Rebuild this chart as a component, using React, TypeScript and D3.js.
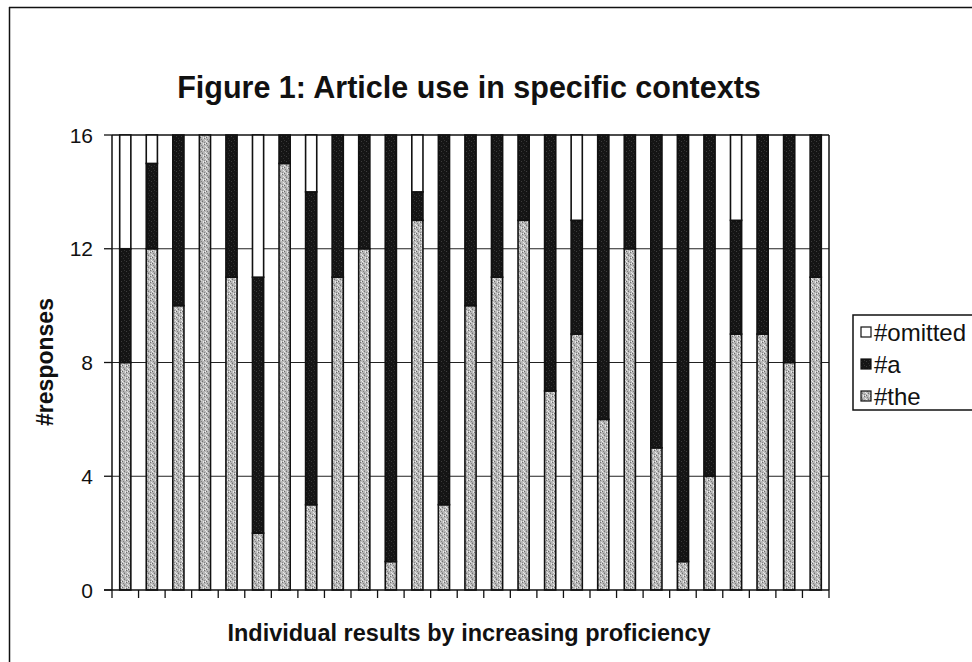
import React from "react";
import * as d3 from "d3";

// Responses per participant, ordered by increasing proficiency
const participants = d3.range(1, 28).map((i) => `P${i}`);
const theCounts = [8, 12, 10, 16, 11, 2, 15, 3, 11, 12, 1, 13, 3, 10, 11, 13, 7, 9, 6, 12, 5, 1, 4, 9, 9, 8, 11];
const aCounts = [4, 3, 6, 0, 5, 9, 1, 11, 5, 4, 15, 1, 13, 6, 5, 3, 9, 4, 10, 4, 11, 15, 12, 4, 7, 8, 5];
const omittedCounts = [4, 1, 0, 0, 0, 5, 0, 2, 0, 0, 0, 2, 0, 0, 0, 0, 0, 3, 0, 0, 0, 0, 0, 3, 0, 0, 0];
const yTicks = [0, 4, 8, 12, 16];
const seriesKeys = ["the", "a", "omitted"] as const;
const seriesLabels: Record<string, string> = { omitted: "#omitted", a: "#a", the: "#the" };
const legendOrder = ["omitted", "a", "the"];

const W = 972;
const H = 662;
const plot = { left: 112, right: 829, top: 135, bottom: 590 };
const FONT = "'Liberation Sans', Arial, Helvetica, sans-serif";

const fills: Record<string, string> = {
  the: "url(#pat-the)",
  a: "url(#pat-a)",
  omitted: "#ffffff",
};

// stipple dots for the light-grey fill (cell 6x6)
const theDots: [number, number, string][] = [
  [0, 0, "#6e6e6e"], [3, 1, "#808080"], [5, 0, "#e6e6e6"], [1, 2, "#e8e8e8"],
  [4, 3, "#727272"], [0, 4, "#888888"], [2, 5, "#6a6a6a"], [5, 5, "#e4e4e4"],
  [2, 3, "#eeeeee"], [4, 2, "#9a9a9a"], [1, 5, "#f0f0f0"], [3, 4, "#dadada"],
];

export default function App() {
  const rows = participants.map((p, i) => ({
    id: p,
    the: theCounts[i],
    a: aCounts[i],
    omitted: omittedCounts[i],
  }));

  const x = d3.scaleBand<string>().domain(participants).range([plot.left, plot.right]).padding(0);
  const y = d3.scaleLinear().domain([0, 16]).range([plot.bottom, plot.top]);
  const stack = d3.stack<any>().keys(seriesKeys as unknown as string[]);
  const layers = stack(rows);
  const barW = x.bandwidth() * 0.42;

  const boundaries = d3.range(participants.length + 1).map((i) => plot.left + i * x.step());

  return (
    <svg
      width={W}
      height={H}
      viewBox={`0 0 ${W} ${H}`}
      style={{ position: "absolute", left: 0, top: 0, background: "#fff", display: "block" }}
    >
      <defs>
        <pattern id="pat-the" width="6" height="6" patternUnits="userSpaceOnUse">
          <rect width="6" height="6" fill="#b8b8b8" />
          {theDots.map(([dx, dy, c], i) => (
            <rect key={i} x={dx} y={dy} width="1" height="1" fill={c} />
          ))}
        </pattern>
        <pattern id="pat-a" width="5" height="5" patternUnits="userSpaceOnUse">
          <rect width="5" height="5" fill="#151515" />
          <rect x="1" y="1" width="1" height="1" fill="#3c3c3c" />
          <rect x="3" y="3" width="1" height="1" fill="#2e2e2e" />
          <rect x="4" y="0" width="1" height="1" fill="#333" />
        </pattern>
      </defs>

      {/* outer chart frame */}
      <line x1={9} y1={7.5} x2={W} y2={7.5} stroke="#111" strokeWidth={1.5} />
      <line x1={9.5} y1={7} x2={9.5} y2={H} stroke="#111" strokeWidth={1.5} />

      {/* title */}
      <text x={469} y={98} textAnchor="middle" fontFamily={FONT} fontWeight="bold" fontSize={30.5} fill="#111">
        Figure 1: Article use in specific contexts
      </text>

      {/* gridlines */}
      {yTicks.filter((t) => t > 0 && t < 16).map((t) => (
        <line key={t} x1={plot.left} x2={plot.right} y1={y(t)} y2={y(t)} stroke="#222" strokeWidth={1} />
      ))}

      {/* plot frame */}
      <line x1={plot.left} x2={plot.right} y1={plot.top} y2={plot.top} stroke="#111" strokeWidth={1.5} />
      <line x1={plot.right} x2={plot.right} y1={plot.top} y2={plot.bottom} stroke="#111" strokeWidth={1.5} />

      {/* stacked bars */}
      {layers.map((layer) => (
        <g key={layer.key}>
          {layer.map((d, i) => {
            const v = d[1] - d[0];
            if (v <= 0) return null;
            const cx = (x(participants[i]) as number) + x.bandwidth() / 2;
            return (
              <rect
                key={i}
                x={cx - barW / 2}
                y={y(d[1])}
                width={barW}
                height={y(d[0]) - y(d[1])}
                fill={fills[layer.key]}
                stroke="#111"
                strokeWidth={1.6}
              />
            );
          })}
        </g>
      ))}

      {/* axes */}
      <line x1={plot.left} x2={plot.left} y1={plot.top} y2={plot.bottom} stroke="#111" strokeWidth={1.5} />
      <line x1={plot.left - 8} x2={plot.right} y1={plot.bottom} y2={plot.bottom} stroke="#111" strokeWidth={1.5} />
      {yTicks.map((t) => (
        <g key={t}>
          <line x1={plot.left - 8} x2={plot.left} y1={y(t)} y2={y(t)} stroke="#111" strokeWidth={1.3} />
          <text x={93} y={y(t)} dy="0.36em" textAnchor="end" fontFamily={FONT} fontSize={21} fill="#111">
            {t}
          </text>
        </g>
      ))}
      {boundaries.map((bx, i) => (
        <line key={i} x1={bx} x2={bx} y1={plot.bottom} y2={plot.bottom + 8} stroke="#111" strokeWidth={1.3} />
      ))}

      {/* axis titles */}
      <text
        transform={`translate(53, 362) rotate(-90)`}
        textAnchor="middle"
        fontFamily={FONT}
        fontWeight="bold"
        fontSize={23}
        fill="#111"
      >
        #responses
      </text>
      <text x={469} y={641} textAnchor="middle" fontFamily={FONT} fontWeight="bold" fontSize={23.5} fill="#111">
        Individual results by increasing proficiency
      </text>

      {/* legend */}
      <rect x={853} y={315} width={W - 853 + 5} height={95} fill="#fff" stroke="#111" strokeWidth={1.5} />
      {legendOrder.map((k, i) => {
        const cy = 332 + i * 32;
        return (
          <g key={k}>
            <rect x={861} y={cy - 5} width={10} height={10} fill={fills[k]} stroke="#111" strokeWidth={1.2} />
            <text x={874} y={cy} dy="0.36em" fontFamily={FONT} fontSize={24} fill="#111">
              {seriesLabels[k]}
            </text>
          </g>
        );
      })}
    </svg>
  );
}
